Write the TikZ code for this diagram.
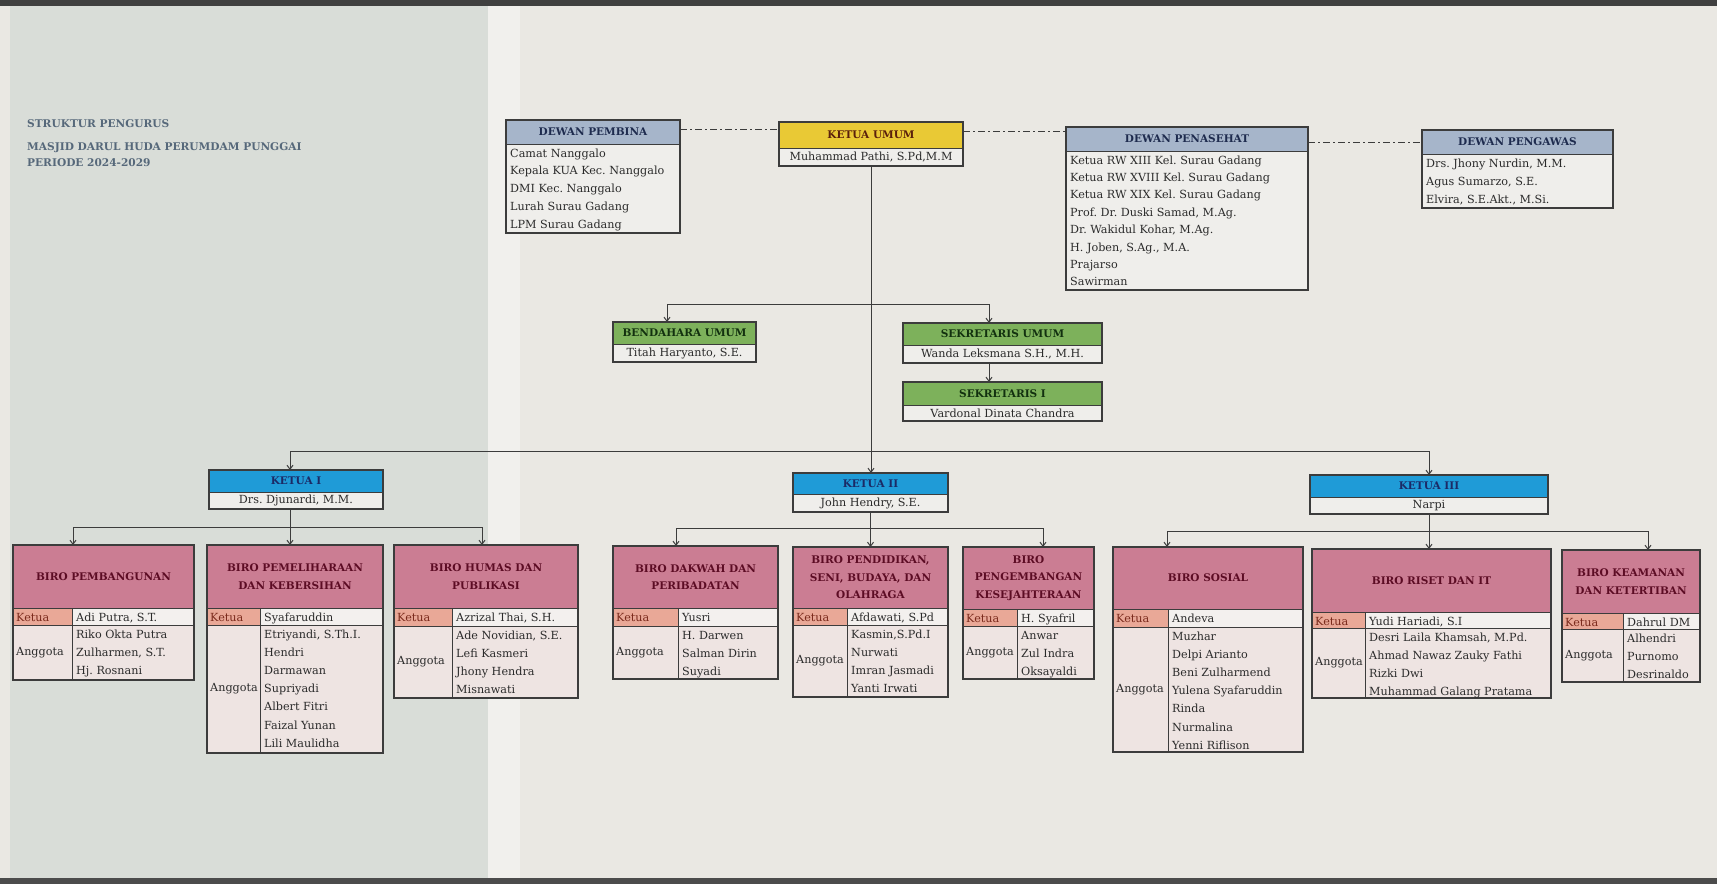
\documentclass[tikz,border=0pt]{standalone}
\usepackage{fontspec}
\setmainfont{DejaVu Serif}
\usetikzlibrary{arrows.meta,calc}
\frenchspacing

\definecolor{bgc}{HTML}{EAE8E3}
\definecolor{bgl}{HTML}{D9DDD8}
\definecolor{ln}{HTML}{3C3C3C}
\definecolor{dwn}{HTML}{A6B5CA}
\definecolor{dwnt}{HTML}{1E2B4E}
\definecolor{yel}{HTML}{E9C935}
\definecolor{yelt}{HTML}{5A200C}
\definecolor{grn}{HTML}{7DB15B}
\definecolor{grnt}{HTML}{12300F}
\definecolor{blu}{HTML}{1F9BD7}
\definecolor{blut}{HTML}{1B2A66}
\definecolor{pnk}{HTML}{CB7D93}
\definecolor{pnkt}{HTML}{5C0C24}
\definecolor{slm}{HTML}{E9A897}
\definecolor{slmt}{HTML}{7A2A1C}
\definecolor{cellw}{HTML}{F3F0EE}
\definecolor{cellp}{HTML}{EEE4E2}
\definecolor{bodyw}{HTML}{EFEEEB}
\definecolor{txtc}{HTML}{2B2B2B}
\definecolor{ttl}{HTML}{56687A}

\tikzset{
  frame/.style={draw=ln, line width=1.4pt, inner sep=0pt, outer sep=0pt, rectangle},
  hdr/.style={font=\bfseries\fontsize{10.5}{17.5}\selectfont, align=center, inner sep=0pt},
  tx/.style={font=\fontsize{11.2}{17}\selectfont, text=txtc, inner sep=0pt},
  conn/.style={draw=ln, line width=1pt},
  arr/.style={conn, -{Straight Barb[length=4pt,width=6pt]}},
  dd/.style={draw=ln, line width=1pt, dash pattern=on 7pt off 3pt on 2pt off 3pt},
  ttlstyle/.style={font=\bfseries\fontsize{10.6}{12}\selectfont, text=ttl, inner sep=0pt, anchor=base west},
}

% name, x1, y1, x2, yh, y2, colour, title, text
\newcommand\onebox[9]{%
  \fill[#7] (#2,#3) rectangle (#4,#5);
  \fill[bodyw] (#2,#5) rectangle (#4,#6);
  \draw[ln, line width=1pt] (#2,#5) -- (#4,#5);
  \node[frame, anchor=north west, minimum width={#4-#2}, minimum height={#6-#3}] (#1) at (#2,#3) {};
  \node[hdr, text=#7t] (#1-h) at ({(#2+#4)/2},{(#3+#5)/2}) {#8};
  \node[tx] (#1-n) at ({(#2+#4)/2},{(#5+#6)/2}) {#9};
}

% name, x1, y1, x2, yh, y2, title, row height, list
\newcommand\dewanbox[9]{%
  \fill[dwn] (#2,#3) rectangle (#4,#5);
  \fill[bodyw] (#2,#5) rectangle (#4,#6);
  \draw[ln, line width=1pt] (#2,#5) -- (#4,#5);
  \node[frame, anchor=north west, minimum width={#4-#2}, minimum height={#6-#3}] (#1) at (#2,#3) {};
  \node[hdr, text=dwnt] (#1-h) at ({(#2+#4)/2},{(#3+#5)/2}) {#7};
  \foreach \nm [count=\i] in {#9} {\node[tx, anchor=base west] (#1-\i) at (#2+4, {#5+(\i-1)*#8+13}) {\nm};}
}

% name, x1, y1, x2, yh, yk, y2, xd, title
\newcommand\birobox[9]{%
  \fill[pnk] (#2,#3) rectangle (#4,#5);
  \fill[slm] (#2,#5) rectangle (#8,#6);
  \fill[cellw] (#8,#5) rectangle (#4,#6);
  \fill[cellp] (#2,#6) rectangle (#4,#7);
  \draw[ln, line width=1pt] (#2,#5) -- (#4,#5) (#2,#6) -- (#4,#6) (#8,#5) -- (#8,#7);
  \node[frame, anchor=north west, minimum width={#4-#2}, minimum height={#7-#3}] (#1) at (#2,#3) {};
  \node[hdr, text=pnkt] (#1-h) at ({(#2+#4)/2},{(#3+#5)/2}) {#9};
}

% name, x1, xd, yh, yk, y2, ketua, list
\newcommand\birotext[8]{%
  \node[tx, text=slmt, anchor=base west] (#1-kl) at (#2+3, #4+13) {Ketua};
  \node[tx, anchor=west] (#1-al) at (#2+3, {(#5+#6)/2}) {Anggota};
  \node[tx, anchor=base west] (#1-k) at (#3+4, #4+13) {#7};
  \foreach \nm [count=\i] in {#8} {\node[tx, anchor=base west] (#1-\i) at (#3+4, {#5+(\i-1)*18.1+13.5}) {\nm};}
}

\begin{document}
\begin{tikzpicture}[x=1pt,y=-1pt]
\useasboundingbox (0,0) rectangle (1717,884);
% background of the photographed screen
\fill[bgc] (0,0) rectangle (1717,884);
\fill[bgl] (10,6) rectangle (488,878);
\fill[white!35!bgc] (488,6) rectangle (520,878);
\fill[black!75] (0,0) rectangle (1717,6);
\fill[black!70] (0,878) rectangle (1717,884);

% title
\node[ttlstyle] (t1) at (27,127) {STRUKTUR PENGURUS};
\node[ttlstyle] (t2) at (27,150) {MASJID DARUL HUDA PERUMDAM PUNGGAI};
\node[ttlstyle] (t3) at (27,166) {PERIODE 2024-2029};

% top level
\dewanbox{dpb}{506}{120}{680}{144}{233}{DEWAN PEMBINA}{17.8}{Camat Nanggalo,Kepala KUA Kec. Nanggalo,DMI Kec. Nanggalo,Lurah Surau Gadang,LPM Surau Gadang}
\onebox{ku}{779}{122}{963}{148}{166}{yel}{KETUA UMUM}{Muhammad Pathi, S.Pd,M.M}
\dewanbox{dps}{1066}{127}{1308}{151}{290}{DEWAN PENASEHAT}{17.4}{Ketua RW XIII Kel. Surau Gadang,Ketua RW XVIII Kel. Surau Gadang,Ketua RW XIX Kel. Surau Gadang,{Prof. Dr. Duski Samad, M.Ag.},{Dr. Wakidul Kohar, M.Ag.},{H. Joben, S.Ag., M.A.},Prajarso,Sawirman}
\dewanbox{dpw}{1422}{130}{1613}{154}{208}{DEWAN PENGAWAS}{18}{{Drs. Jhony Nurdin, M.M.},{Agus Sumarzo, S.E.},{Elvira, S.E.Akt., M.Si.}}

\draw[dd] (dpb.north east |- 0,129) -- (ku.north west |- 0,129);
\draw[dd] (ku.north east |- 0,131) -- (dps.north west |- 0,131);
\draw[dd] (dps.north east |- 0,142) -- (dpw.north west |- 0,142);

% treasurer and secretaries
\onebox{bend}{613}{322}{756}{344}{362}{grn}{BENDAHARA UMUM}{Titah Haryanto, S.E.}
\onebox{sek}{903}{323}{1102}{345}{363}{grn}{SEKRETARIS UMUM}{Wanda Leksmana S.H., M.H.}
\onebox{sek1}{903}{382}{1102}{405}{421}{grn}{SEKRETARIS I}{Vardonal Dinata Chandra}

% vice chairs
\onebox{k1}{209}{470}{383}{492}{509}{blu}{KETUA I}{Drs. Djunardi, M.M.}
\onebox{k2}{793}{473}{948}{494}{512}{blu}{KETUA II}{John Hendry, S.E.}
\onebox{k3}{1310}{475}{1548}{497}{514}{blu}{KETUA III}{Narpi}

% connectors from ketua umum
\coordinate (bb) at (ku.south |- 0,304);
\coordinate (kb) at (ku.south |- 0,451);
\draw[conn] (ku.south) -- (kb);
\draw[arr] (bb) -| (667,0 |- bend.north);
\draw[arr] (bb) -| (989,0 |- sek.north);
\draw[arr] (sek.south -| 989,0) -- (989,0 |- sek1.north);
\draw[arr] (kb) -| (290,0 |- k1.north);
\draw[arr] (kb) -| (k3.north);
\draw[arr] (kb) -- (kb |- k2.north);

% biro boxes
\birobox{bpb}{13}{545}{194}{608}{625}{680}{72}{BIRO PEMBANGUNAN}
\birotext{bpb}{13}{72}{608}{625}{680}{Adi Putra, S.T.}{Riko Okta Putra,{Zulharmen, S.T.},Hj. Rosnani}

\birobox{bpk}{207}{545}{383}{608}{625}{753}{260}{BIRO PEMELIHARAAN\\DAN KEBERSIHAN}
\birotext{bpk}{207}{260}{608}{625}{753}{Syafaruddin}{{Etriyandi, S.Th.I.},Hendri,Darmawan,Supriyadi,Albert Fitri,Faizal Yunan,Lili Maulidha}

\birobox{bhp}{394}{545}{578}{608}{626}{698}{452}{BIRO HUMAS DAN\\PUBLIKASI}
\birotext{bhp}{394}{452}{608}{626}{698}{Azrizal Thai, S.H.}{{Ade Novidian, S.E.},Lefi Kasmeri,Jhony Hendra,Misnawati}

\birobox{bdp}{613}{546}{778}{608}{626}{679}{678}{BIRO DAKWAH DAN\\PERIBADATAN}
\birotext{bdp}{613}{678}{608}{626}{679}{Yusri}{H. Darwen,Salman Dirin,Suyadi}

\birobox{bps}{793}{547}{948}{608}{625}{697}{847}{BIRO PENDIDIKAN,\\SENI, BUDAYA, DAN\\OLAHRAGA}
\birotext{bps}{793}{847}{608}{625}{697}{Afdawati, S.Pd}{{Kasmin,S.Pd.I},Nurwati,Imran Jasmadi,Yanti Irwati}

\birobox{bpg}{963}{547}{1094}{609}{626}{679}{1017}{BIRO\\PENGEMBANGAN\\KESEJAHTERAAN}
\birotext{bpg}{963}{1017}{609}{626}{679}{H. Syafril}{Anwar,Zul Indra,Oksayaldi}

\birobox{bso}{1113}{547}{1303}{609}{627}{752}{1168}{BIRO SOSIAL}
\birotext{bso}{1113}{1168}{609}{627}{752}{Andeva}{Muzhar,Delpi Arianto,Beni Zulharmend,Yulena Syafaruddin,Rinda,Nurmalina,Yenni Riflison}

\birobox{bri}{1312}{549}{1551}{612}{628}{698}{1365}{BIRO RISET DAN IT}
\birotext{bri}{1312}{1365}{612}{628}{698}{Yudi Hariadi, S.I}{{Desri Laila Khamsah, M.Pd.},Ahmad Nawaz Zauky Fathi,Rizki Dwi,Muhammad Galang Pratama}

\birobox{bkk}{1562}{550}{1700}{613}{629}{682}{1623}{BIRO KEAMANAN\\DAN KETERTIBAN}
\birotext{bkk}{1562}{1623}{613}{629}{682}{Dahrul DM}{Alhendri,Purnomo,Desrinaldo}

% connectors from ketua I, II, III
\coordinate (c1) at (290,0 |- 0,527);
\draw[conn] (290,0 |- k1.south) -- (c1);
\draw[arr] (c1) -| (73,0 |- bpb.north);
\draw[arr] (c1) -| (482,0 |- bhp.north);
\draw[arr] (c1) -- (c1 |- bpk.north);

\coordinate (c2) at (k2.south |- 0,528);
\draw[conn] (k2.south) -- (c2);
\draw[arr] (c2) -| (676,0 |- bdp.north);
\draw[arr] (c2) -| (1043,0 |- bpg.north);
\draw[arr] (c2) -- (c2 |- bps.north);

\coordinate (c3) at (k3.south |- 0,531);
\draw[conn] (k3.south) -- (c3);
\draw[arr] (c3) -| (1167,0 |- bso.north);
\draw[arr] (c3) -| (1648,0 |- bkk.north);
\draw[arr] (c3) -- (c3 |- bri.north);
\end{tikzpicture}
\end{document}
